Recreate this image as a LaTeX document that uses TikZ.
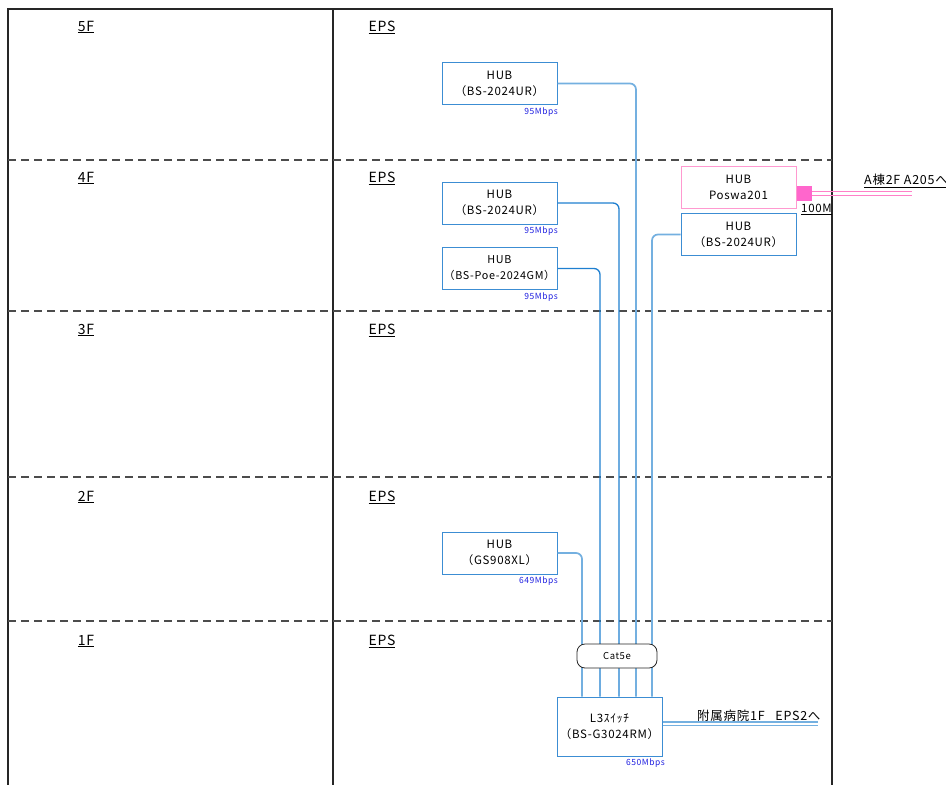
\documentclass[tikz,border=0pt]{standalone}
\usepackage{fontspec}
\setmainfont[LetterSpace=6]{Noto Sans CJK JP}
\definecolor{boxblue}{HTML}{3C8DD3}
\definecolor{cabdark}{HTML}{1F7FD0}
\definecolor{cablight}{HTML}{74B0E0}
\definecolor{pinkb}{HTML}{FF99D0}
\definecolor{pinkl}{HTML}{FF80C8}
\definecolor{pinkf}{HTML}{FF66CC}
\definecolor{rateblue}{HTML}{2020E0}
\begin{document}
\begin{tikzpicture}[x=1pt,y=-1pt,
  frame/.style={draw=black!85,line width=1.1pt},
  floorline/.style={draw=black!70,dashed,dash pattern=on 8pt off 5pt,line width=1.1pt},
  flabel/.style={font=\fontsize{14}{16}\selectfont,inner sep=0pt},
  hub/.style={draw=boxblue,line width=1pt,fill=white,minimum width=115pt,minimum height=42pt,align=center,inner sep=0pt,font=\fontsize{11.5}{16}\selectfont},
  rate/.style={text=rateblue,font=\fontsize{8.5}{9}\selectfont,inner sep=0pt,anchor=north east},
  cabA/.style={draw=cablight,line width=1.7pt,rounded corners=6pt},
  cabB/.style={draw=cabdark,line width=1.3pt,rounded corners=6pt},
  note/.style={font=\fontsize{12.5}{14}\selectfont,inner sep=0pt}]
\useasboundingbox (0,0) rectangle (946,785);
% frame
\draw[frame] (8,785) -- (8,9) -- (832,9) -- (832,785);
\draw[frame] (333,9) -- (333,785);
% floor lines
\foreach \yy in {160,311,477,621} \draw[floorline] (8,\yy) -- (832,\yy);
% floor labels
\node[flabel] (f5) at (86,27) {\underline{5F}};
\node[flabel] (f4) at (86,178) {\underline{4F}};
\node[flabel] (f3) at (86,330) {\underline{3F}};
\node[flabel] (f2) at (86,497) {\underline{2F}};
\node[flabel] (f1) at (86,641) {\underline{1F}};
\node[flabel] (e5) at (382,27) {\underline{EPS}};
\node[flabel] (e4) at (382,178) {\underline{EPS}};
\node[flabel] (e3) at (382,330) {\underline{EPS}};
\node[flabel] (e2) at (382,497) {\underline{EPS}};
\node[flabel] (e1) at (382,641) {\underline{EPS}};
% hubs
\node[hub] (h5) at (499.5,83.5) {HUB\\（BS-2024UR）};
\node[rate] (r5) at (558,108) {95Mbps};
\node[hub] (h4a) at (499.5,203) {HUB\\（BS-2024UR）};
\node[rate] (r4a) at (558,227) {95Mbps};
\node[hub,font=\fontsize{10.8}{16}\selectfont] (h4b) at (499.5,268.5) {HUB\\（BS-Poe-2024GM）};
\node[rate] (r4b) at (558,292.5) {95Mbps};
\node[hub,draw=pinkb] (hp) at (738.5,187) {HUB\\Poswa201};
\node[hub] (h4c) at (738.5,234.5) {HUB\\（BS-2024UR）};
\node[hub] (h2) at (499.5,553) {HUB\\（GS908XL）};
\node[rate] (r2) at (558,577) {649Mbps};
\node[hub,minimum width=105pt,minimum height=59pt] (l3) at (609.5,726.5) {L3ｽｲｯﾁ\\（BS-G3024RM）};
\node[rate] (rl3) at (665,759) {650Mbps};
% cables
\draw[cabA] (h5.east) -| ([xshift=26.5pt]l3.north);
\draw[cabB] (h4a.east) -| ([xshift=9.5pt]l3.north);
\draw[cabB] (h4b.east) -| ([xshift=-9.5pt]l3.north);
\draw[cabA] (h2.east) -| ([xshift=-27.5pt]l3.north);
\draw[cabA] (h4c.west) -| ([xshift=42.5pt]l3.north);
% cat5e bundle
\node[draw=black!85,line width=0.8pt,fill=white,rounded corners=8pt,minimum width=80pt,minimum height=24pt,inner sep=0pt,font=\fontsize{9.5}{10}\selectfont] (cat) at (617,656) {Cat5e};
% outgoing from L3
\coordinate (l3out) at (818,729);
\draw[draw=cablight,line width=1.3pt] ([yshift=1pt]l3.east) -- ([yshift=1pt]l3.east -| l3out);
\draw[draw=cablight,line width=1.3pt] ([yshift=4.5pt]l3.east) -- ([yshift=4.5pt]l3.east -| l3out);
\node[note,anchor=south west] (eps2) at (697,722) {附属病院1F\ \ \ EPS2へ};
% Poswa outgoing
\node[draw=pinkf,fill=pinkf,minimum size=14pt,inner sep=0pt] (sq) at (804.5,193.5) {};
\coordinate (pout) at (912,193.5);
\draw[draw=pinkl,line width=1.4pt] ([yshift=-2pt]sq.east) -- ([yshift=-2pt]pout);
\draw[draw=pinkl,line width=1.4pt] ([yshift=2pt]sq.east) -- ([yshift=2pt]pout);
\node[note,anchor=south west] (a205) at (864,188) {\underline{A棟2F A205へ}};
\node[note,anchor=north west,font=\fontsize{11.5}{13}\selectfont] (m100) at (801,204) {\underline{100M}};
\end{tikzpicture}
\end{document}
